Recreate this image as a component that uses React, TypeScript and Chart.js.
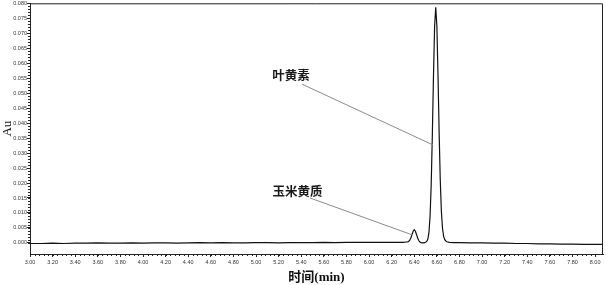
import { useEffect, useRef } from 'react';
import { Chart, registerables } from 'chart.js';

Chart.register(...registerables);

// Retention time (min)
const retentionTimes = [
  3.0, 3.1, 3.2, 3.3, 3.4, 3.5, 3.6, 3.7, 3.8, 3.9,
  4.0, 4.1, 4.2, 4.3, 4.4, 4.5, 4.6, 4.7, 4.8, 4.9,
  5.0, 5.1, 5.2, 5.3, 5.4, 5.5, 5.6, 5.7, 5.8, 5.9,
  6.0, 6.1, 6.2, 6.25, 6.3, 6.33,
  6.34, 6.35, 6.36, 6.37, 6.38, 6.39, 6.4, 6.41, 6.42, 6.43,
  6.44, 6.45, 6.46, 6.47, 6.48, 6.49, 6.5, 6.51, 6.52, 6.53,
  6.54, 6.55, 6.56, 6.57, 6.58, 6.59, 6.6, 6.61, 6.62, 6.63,
  6.64, 6.65, 6.66, 6.67, 6.68, 6.69, 6.71, 6.75, 6.8, 6.9,
  7.0, 7.1, 7.2, 7.3, 7.4, 7.5, 7.6, 7.7, 7.8, 7.9,
  8.0, 8.07,
];

// Absorbance (Au)
const absorbance = [
  -0.0002, -0.0002, -0.0001, -0.0002, -0.0001, -0.0001, 0.0, -0.0001, -0.0001, 0.0,
  -0.0001, 0.0, 0.0, -0.0001, 0.0, 0.0001, 0.0, 0.0001, 0.0, 0.0,
  0.0001, 0.0001, 0.0, 0.0001, 0.0001, 0.0001, 0.0002, 0.0001, 0.0002, 0.0002,
  0.0002, 0.0002, 0.0002, 0.0002, 0.0002, 0.0003,
  0.0003, 0.0005, 0.0009, 0.0016, 0.0028, 0.0039, 0.0044, 0.0039, 0.0028, 0.0016,
  0.0008, 0.0003, 0.0001, 0.0, 0.0, 0.0001, 0.0002, 0.0005, 0.0012, 0.0035,
  0.009, 0.0196, 0.036, 0.0556, 0.0722, 0.0787, 0.0725, 0.0562, 0.037, 0.021,
  0.0105, 0.0048, 0.0022, 0.0011, 0.0006, 0.0004, 0.0002, 0.0001, 0.0001, 0.0,
  0.0, -0.0001, -0.0001, -0.0002, -0.0002, -0.0003, -0.0003, -0.0004, -0.0004, -0.0005,
  -0.0005, -0.0005,
];

const xTickValues = [
  3.0, 3.2, 3.4, 3.6, 3.8, 4.0, 4.2, 4.4, 4.6, 4.8, 5.0, 5.2, 5.4,
  5.6, 5.8, 6.0, 6.2, 6.4, 6.6, 6.8, 7.0, 7.2, 7.4, 7.6, 7.8, 8.0,
];
const yTickValues = [
  0.0, 0.005, 0.01, 0.015, 0.02, 0.025, 0.03, 0.035, 0.04,
  0.045, 0.05, 0.055, 0.06, 0.065, 0.07, 0.075, 0.08,
];

const peakNames = ['叶黄素', '玉米黄质'];
const xAxisTitle = '时间(min)';
const yAxisTitle = 'Au';

// annotation placement (data coordinates): label centre, leader start, leader end
const annotationPlacement = [
  { label: [5.31, 0.056], from: [5.407, 0.053], to: [6.566, 0.0327] },
  { label: [5.367, 0.0173], from: [5.478, 0.015], to: [6.381, 0.0027] },
];

const decorPlugin = {
  id: 'decor',
  afterDraw(chart: any) {
    const { ctx, chartArea } = chart;
    const { left, top, right, bottom } = chartArea;
    const xs = chart.scales.x;
    const ys = chart.scales.y;
    ctx.save();
    ctx.strokeStyle = '#222';
    ctx.lineWidth = 1;
    ctx.beginPath();
    ctx.moveTo(left, top + 0.5);
    ctx.lineTo(right - 0.5, top + 0.5);
    ctx.lineTo(right - 0.5, bottom);
    ctx.stroke();

    // minor ticks
    ctx.beginPath();
    for (let i = 0; i <= 125; i++) {
      const v = 3 + i * 0.04;
      const px = Math.round(xs.getPixelForValue(v)) + 0.5;
      ctx.moveTo(px, bottom);
      ctx.lineTo(px, bottom + 2);
    }
    for (let i = 0; i <= 80; i++) {
      const v = i * 0.001;
      const py = Math.round(ys.getPixelForValue(v)) + 0.5;
      ctx.moveTo(left, py);
      ctx.lineTo(left - 2, py);
    }
    ctx.stroke();

    // annotations
    ctx.strokeStyle = '#8a8a8a';
    ctx.lineWidth = 1;
    annotationPlacement.forEach((a, i) => {
      ctx.beginPath();
      ctx.moveTo(xs.getPixelForValue(a.from[0]), ys.getPixelForValue(a.from[1]));
      ctx.lineTo(xs.getPixelForValue(a.to[0]), ys.getPixelForValue(a.to[1]));
      ctx.stroke();
      ctx.fillStyle = '#1a1a1a';
      ctx.font = 'bold 12.5px "Noto Sans CJK SC", sans-serif';
      ctx.textAlign = 'center';
      ctx.textBaseline = 'middle';
      ctx.fillText(peakNames[i], xs.getPixelForValue(a.label[0]), ys.getPixelForValue(a.label[1]));
    });
    ctx.restore();
  },
};

export default function App() {
  const canvasRef = useRef<HTMLCanvasElement | null>(null);

  useEffect(() => {
    document.body.style.margin = '0';
    const canvas = canvasRef.current;
    if (!canvas) return;
    const points = retentionTimes.map((t, i) => ({ x: t, y: absorbance[i] }));
    const chart = new Chart(canvas, {
      type: 'line',
      data: {
        datasets: [
          {
            data: points,
            borderColor: '#111',
            borderWidth: 1.2,
            pointRadius: 0,
            tension: 0,
            fill: false,
          },
        ],
      },
      options: {
        animation: false,
        responsive: false,
        events: [],
        layout: { padding: { top: 3, right: 3, left: 0, bottom: 0 } },
        plugins: { legend: { display: false }, tooltip: { enabled: false } },
        scales: {
          x: {
            type: 'linear',
            min: 3.0,
            max: 8.07,
            afterBuildTicks: (scale: any) => {
              scale.ticks = xTickValues.map((v) => ({ value: v }));
            },
            afterFit: (scale: any) => {
              scale.height = 31;
            },
            grid: {
              display: true,
              drawOnChartArea: false,
              drawTicks: true,
              tickLength: 3,
              color: '#222',
            },
            border: { display: true, color: '#222', width: 1 },
            ticks: {
              autoSkip: false,
              maxRotation: 0,
              minRotation: 0,
              padding: 2,
              color: '#333',
              font: { size: 5.5, family: '"Liberation Sans", Arial, sans-serif' },
              callback: (v: any) => Number(v).toFixed(2),
            },
            title: {
              display: true,
              text: xAxisTitle,
              color: '#111',
              padding: { top: 0, bottom: 0 },
              font: { size: 13, weight: 'bold', family: '"Liberation Serif", "Noto Sans CJK SC", serif' },
            },
          },
          y: {
            type: 'linear',
            min: -0.0037,
            max: 0.08,
            afterBuildTicks: (scale: any) => {
              scale.ticks = yTickValues.map((v) => ({ value: v }));
            },
            afterFit: (scale: any) => {
              scale.width = 30;
            },
            grid: {
              display: true,
              drawOnChartArea: false,
              drawTicks: true,
              tickLength: 3,
              color: '#222',
            },
            border: { display: true, color: '#222', width: 1 },
            ticks: {
              autoSkip: false,
              padding: 0,
              color: '#333',
              font: { size: 5.5, family: '"Liberation Sans", Arial, sans-serif' },
              callback: (v: any) => Number(v).toFixed(3),
            },
            title: {
              display: true,
              text: yAxisTitle,
              color: '#111',
              padding: { top: 0, bottom: 0 },
              font: { size: 13, family: '"Liberation Serif", serif' },
            },
          },
        },
      },
      plugins: [decorPlugin],
    });
    return () => chart.destroy();
  }, []);

  return (
    <div style={{ width: 606, height: 285, position: 'relative', background: '#fff' }}>
      <canvas ref={canvasRef} width={606} height={285} style={{ width: 606, height: 285, display: 'block' }} />
    </div>
  );
}
